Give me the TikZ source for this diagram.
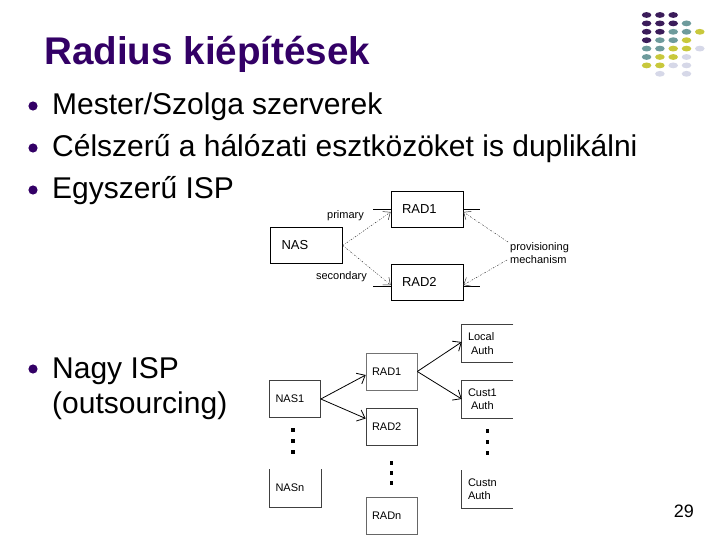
\documentclass[tikz,border=0pt]{standalone}
\usepackage{fontspec}
\setmainfont{Liberation Sans}
\usetikzlibrary{arrows.meta}

\definecolor{titlepurple}{HTML}{330066}
\definecolor{dotpurple}{HTML}{3B1C5A}
\definecolor{dotteal}{HTML}{6E9B9C}
\definecolor{dotyellow}{HTML}{C8C83C}
\definecolor{dotlav}{HTML}{D6D8E8}

\tikzset{
  radbox/.style={draw, line width=0.7pt, minimum width=72pt, minimum height=36pt,
    text width=50pt, inner xsep=11pt, align=left, font=\fontsize{13}{15}\selectfont},
  provline/.style={line width=0.5pt, black!80,
    dash pattern=on 1.5pt off 1.5pt on 0.4pt off 1.5pt,
    -{Straight Barb[length=6pt,width=10pt]}},
  srv/.style={line width=0.6pt, minimum width=51pt, minimum height=37pt,
    text width=39pt, inner xsep=6pt, align=left, font=\fontsize{11}{13.5}\selectfont},
  srvline/.style={line width=0.8pt, -{Straight Barb[length=7pt,width=12pt]}},
  bullet/.style={font=\fontsize{30}{35}\selectfont, anchor=base west, inner sep=0}
}

\begin{document}
\begin{tikzpicture}[x=1pt, y=-1pt]
    \useasboundingbox (0,0) rectangle (720,540);

    % Corner dots
    \foreach \c/\r/\col in {1/1/dotpurple, 2/1/dotpurple, 3/1/dotpurple,
        1/2/dotpurple, 2/2/dotpurple, 3/2/dotpurple, 4/2/dotteal,
        1/3/dotpurple, 2/3/dotpurple, 3/3/dotteal, 4/3/dotteal, 5/3/dotyellow,
        1/4/dotpurple, 2/4/dotteal, 3/4/dotteal, 4/4/dotyellow,
        1/5/dotteal, 2/5/dotteal, 3/5/dotyellow, 4/5/dotyellow, 5/5/dotlav,
        1/6/dotteal, 2/6/dotyellow, 3/6/dotyellow, 4/6/dotlav,
        1/7/dotyellow, 2/7/dotyellow, 3/7/dotlav, 4/7/dotlav,
        2/8/dotlav, 4/8/dotlav}
      \fill[\col] ({633.3+13.3*\c}, {6.6+8.4*\r}) ellipse (4.8pt and 2.9pt);

    % Title
    \node[font=\fontsize{38.6}{42}\selectfont\bfseries, text=titlepurple, anchor=base west, inner sep=0]
      (title) at (44,65) {Radius kiépítések};

    % Bullets
    \foreach \y in {106,148,190,369}
      \fill[titlepurple] (33,\y) circle (4.6pt);
    \node[bullet] (b1) at (52,115) {Mester/Szolga szerverek};
    \node[bullet] (b2) at (52,157) {Célszerű a hálózati esztközöket is duplikálni};
    \node[bullet] (b3) at (52,199) {Egyszerű ISP};
    \node[bullet, align=left] (b4) at (52,413) {Nagy ISP\\(outsourcing)};

    % Simple ISP
    \node[radbox] (nas) at (306.5,245.5) {NAS};
    \node[radbox] (rad1) at (427,209) {RAD1};
    \node[radbox] (rad2) at (427,282) {RAD2};
    \draw[line width=0.7pt] (rad1.west) -- ++(-18,0);
    \draw[line width=0.7pt] (rad1.east) -- ++(17,0);
    \draw[line width=0.7pt] ([yshift=-4pt]rad2.west) -- ++(-18,0);
    \draw[line width=0.7pt] ([yshift=-4pt]rad2.east) -- ++(17,0);
    \node[font=\fontsize{11}{13}\selectfont, anchor=east, inner sep=0] (prim) at (364,216) {primary};
    \node[font=\fontsize{11}{13}\selectfont, anchor=east, inner sep=0] (sec) at (367,277) {secondary};
    \node[font=\fontsize{11}{12.5}\selectfont, anchor=west, inner sep=0, align=left] (prov) at (510,253) {provisioning\\mechanism};
    \coordinate (provtop) at (508,242);
    \coordinate (provbot) at (507,260);
    \draw[provline] (nas.east) -- ([yshift=-3pt]rad1.west);
    \draw[provline] (nas.east) -- ([yshift=-3pt]rad2.west);
    \draw[provline] (provtop) -- ([yshift=-3pt]rad1.east);
    \draw[provline] (provbot) -- ([yshift=-3pt]rad2.east);

    % Large ISP
    \node[srv, draw=black!75] (nas1) at (295,399) {NAS1};
    \node[srv] (nasn) at (295,488) {NASn};
    \node[srv, draw=black!55] (srad1) at (391.5,371.5) {RAD1};
    \node[srv, draw=black!75] (srad2) at (391.5,426.5) {RAD2};
    \node[srv, draw=black!60] (sradn) at (391.5,515.5) {RADn};
    \node[srv] (local) at (487.5,343.5) {Local\\\hspace*{3pt}Auth};
    \node[srv] (cust1) at (487.5,399) {Cust1\\\hspace*{3pt}Auth};
    \node[srv] (custn) at (487.5,489) {Custn\\Auth};
    \draw[line width=0.6pt, black!75] (nasn.north west) -- (nasn.south west) -- (nasn.south east) -- (nasn.north east);
    \draw[line width=0.6pt, black!75] (local.north east) -- (local.north west) -- (local.south west) -- (local.south east);
    \draw[line width=0.6pt, black!75] (cust1.north east) -- (cust1.north west) -- (cust1.south west) -- (cust1.south east);
    \draw[line width=0.6pt, black!75] (custn.north west) -- (custn.south west) -- (custn.south east);
    \foreach \y in {428,439,450}
      \fill (291.3,\y) rectangle ++(3.5,4);
    \foreach \y in {461,471,481}
      \fill (389.8,\y) rectangle ++(3.5,4);
    \foreach \y in {429,440,451}
      \fill (485.8,\y) rectangle ++(3.5,4);
    \draw[srvline] (nas1.east) -- ([yshift=-3.5pt]srad1.west);
    \draw[srvline] (nas1.east) -- ([yshift=8pt]srad2.west);
    \draw[srvline] (srad1.east) -- ([yshift=1.5pt]local.west);
    \draw[srvline] (srad1.east) -- ([yshift=0pt]cust1.west);

    % Page number
    \node[font=\fontsize{18}{20}\selectfont, anchor=base east, inner sep=0] (page) at (694,517) {29};
\end{tikzpicture}
\end{document}
